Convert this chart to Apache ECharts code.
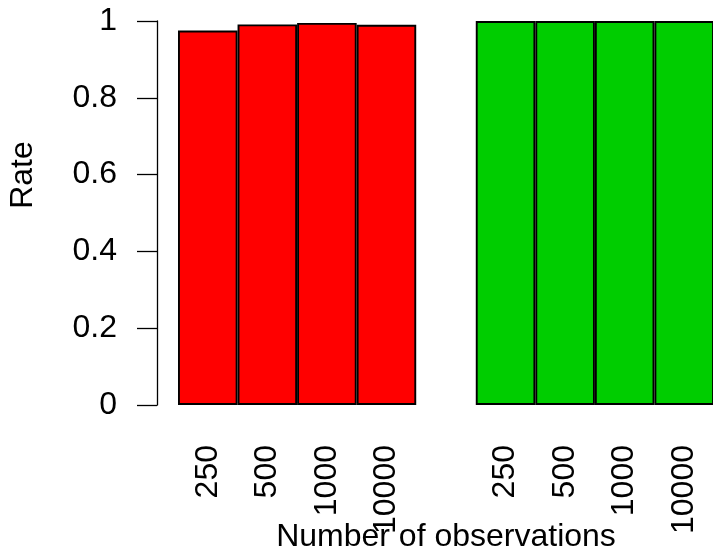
<!DOCTYPE html>
<html>
<head>
<meta charset="utf-8">
<script src="https://cdn.jsdelivr.net/npm/echarts@6/dist/echarts.min.js"></script>
<style>
  html, body { margin: 0; padding: 0; background: #ffffff; }
  #chart { width: 713px; height: 558px; }
</style>
</head>
<body>
<div id="chart"></div>
<script>
// Categories (blank slot separates the two groups)
var categories = ['250', '500', '1000', '10000', '', '250', '500', '1000', '10000'];
// Rates
var redRates   = [0.975, 0.991, 0.995, 0.990, '-', '-', '-', '-', '-'];
var greenRates = ['-', '-', '-', '-', '-', 1.0, 1.0, 1.0, 1.0];
var yTicks = { min: 0, max: 1, interval: 0.2 };

var FONT = 'Liberation Sans, Arial, Helvetica, sans-serif';
var chart = echarts.init(document.getElementById('chart'), null, { renderer: 'canvas' });

chart.setOption({
  animation: false,
  backgroundColor: '#ffffff',
  grid: { left: 178, top: 21, width: 536, bottom: 153, containLabel: false, outerBoundsMode: 'none' },
  xAxis: {
    type: 'category',
    data: categories,
    axisLine: { show: false },
    axisTick: { show: false },
    axisLabel: {
      rotate: 90,
      margin: 40,
      interval: 0,
      color: '#000000',
      fontSize: 32,
      fontFamily: FONT
    },
    name: 'Number of observations',
    nameLocation: 'middle',
    nameGap: 116,
    nameMoveOverlap: false,
    nameTextStyle: { color: '#000000', fontSize: 32, fontFamily: FONT }
  },
  yAxis: {
    type: 'value',
    min: yTicks.min,
    max: yTicks.max,
    interval: yTicks.interval,
    offset: 21,
    splitLine: { show: false },
    axisLine: { show: true, lineStyle: { color: '#000000', width: 1.3 } },
    axisTick: { show: true, inside: false, length: 20, lineStyle: { color: '#000000', width: 1.3 } },
    axisLabel: {
      margin: 40,
      color: '#000000',
      fontSize: 32,
      fontFamily: FONT
    },
    name: 'Rate',
    nameLocation: 'middle',
    nameGap: 118,
    nameMoveOverlap: false,
    nameTextStyle: { color: '#000000', fontSize: 32, fontFamily: FONT, padding: [0, 0, 0, 76] }
  },
  series: [
    {
      type: 'bar',
      data: redRates,
      barCategoryGap: '0%',
      barGap: '-100%',
      itemStyle: { color: '#FF0000', borderColor: '#000000', borderWidth: 1.9 }
    },
    {
      type: 'bar',
      data: greenRates,
      barCategoryGap: '0%',
      barGap: '-100%',
      itemStyle: { color: '#00CD00', borderColor: '#000000', borderWidth: 1.9 }
    }
  ]
});
</script>
</body>
</html>
